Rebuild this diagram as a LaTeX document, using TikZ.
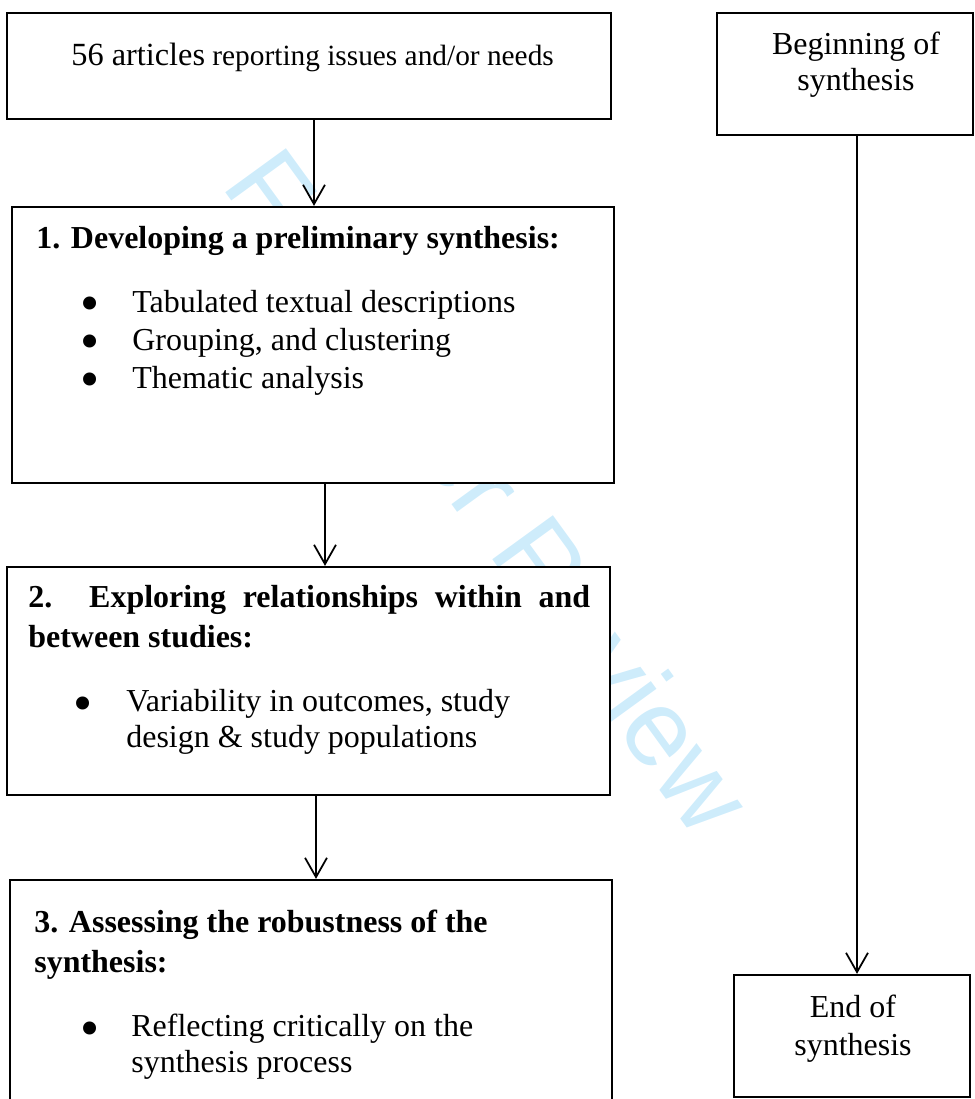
\documentclass[tikz,border=0pt]{standalone}
\usepackage{fontspec}
\setmainfont{Liberation Serif}
\newfontfamily\wmfont{Liberation Sans}
\usetikzlibrary{arrows.meta}
\definecolor{wmblue}{RGB}{206,236,251}
\tikzset{
  box/.style={draw, line width=1.3pt, fill=white, inner sep=0pt},
  txt/.style={font=\fontsize{18.2}{21.6}\selectfont, inner sep=0pt},
  hd/.style={font=\fontsize{18.2}{22.3}\selectfont\bfseries, inner sep=0pt},
  dot/.style={font=\fontsize{31}{31}\selectfont, inner sep=0pt, anchor=base},
  wm/.style={font=\wmfont\fontsize{62}{62}\selectfont, text=wmblue, inner sep=0pt},
  arr/.style={-{Straight Barb[length=11pt,width=12.5pt]}, line width=1pt},
}
\begin{document}
\begin{tikzpicture}[x=0.02cm, y=-0.02cm]
  \useasboundingbox (0,0) rectangle (974,1099);
  \node[wm, rotate=-54, anchor=base west] (wmark) at (220,185) {For Peer Review};

  % boxes
  \node[box, minimum width=12.08cm, minimum height=2.12cm] (arts) at (309,66) {};
  \node[box, minimum width=5.12cm, minimum height=2.44cm] (begin) at (845,74) {};
  \node[box, minimum width=12.04cm, minimum height=5.52cm] (prelim) at (313,345) {};
  \node[box, minimum width=12.06cm, minimum height=4.56cm] (explore) at (308.5,681) {};
  \node[box, minimum width=12.04cm, minimum height=4.6cm] (assess) at (311,995) {};
  \node[box, minimum width=4.72cm, minimum height=2.44cm] (endsyn) at (852,1036) {};

  % texts (multi-line nodes sit on their last line)
  \node[txt, font=\fontsize{16.7}{20}\selectfont, anchor=base west] (artstxt) at (71,65)
    {{\fontsize{18.4}{20}\selectfont 56 articles} reporting issues and/or needs};
  \node[txt, font=\fontsize{18.2}{20}\selectfont, align=center, anchor=base] (begtxt) at (856,90)
    {Beginning of\\synthesis};
  \node[txt, align=center, anchor=base] (endtxt) at (853,1055)
    {End of\\synthesis};

  \node[hd, anchor=base west] (prelimhd) at (36,248) {1. Developing a preliminary synthesis:};
  \node[txt, align=left, anchor=base west] (prelimlst) at (132,388)
    {Tabulated textual descriptions\\Grouping, and clustering\\Thematic analysis};
  \foreach \y in {312,350,388}
    \node[dot] at (90,\y+9) {\textbullet};

  \node[hd, align=left, anchor=base west] (explorehd) at (28,647)
    {\makebox[11.24cm][s]{2. Exploring relationships within and}\\between studies:};
  \node[txt, font=\fontsize{18.2}{20}\selectfont, align=left, anchor=base west] (explorelst) at (126,747)
    {Variability in outcomes, study\\design \& study populations};
  \node[dot] (explorebul) at (83,721) {\textbullet};

  \node[hd, align=left, anchor=base west] (assesshd) at (34,972)
    {3. Assessing the robustness of the\\synthesis:};
  \node[txt, font=\fontsize{18.2}{20}\selectfont, align=left, anchor=base west] (assesslst) at (131,1072)
    {Reflecting critically on the\\synthesis process};
  \node[dot] (assessbul) at (90,1046) {\textbullet};

  % connectors
  \draw[arr] ([xshift=0.1cm]arts.south) -- ([xshift=0.1cm]arts.south |- prelim.north);
  \draw[arr] ([xshift=0.24cm]prelim.south) -- ([xshift=0.24cm]prelim.south |- explore.north);
  \draw[arr] ([xshift=0.15cm]explore.south) -- ([xshift=0.15cm]explore.south |- assess.north);
  \draw[arr] ([xshift=0.24cm]begin.south) -- ([xshift=0.24cm]begin.south |- endsyn.north);
\end{tikzpicture}
\end{document}
